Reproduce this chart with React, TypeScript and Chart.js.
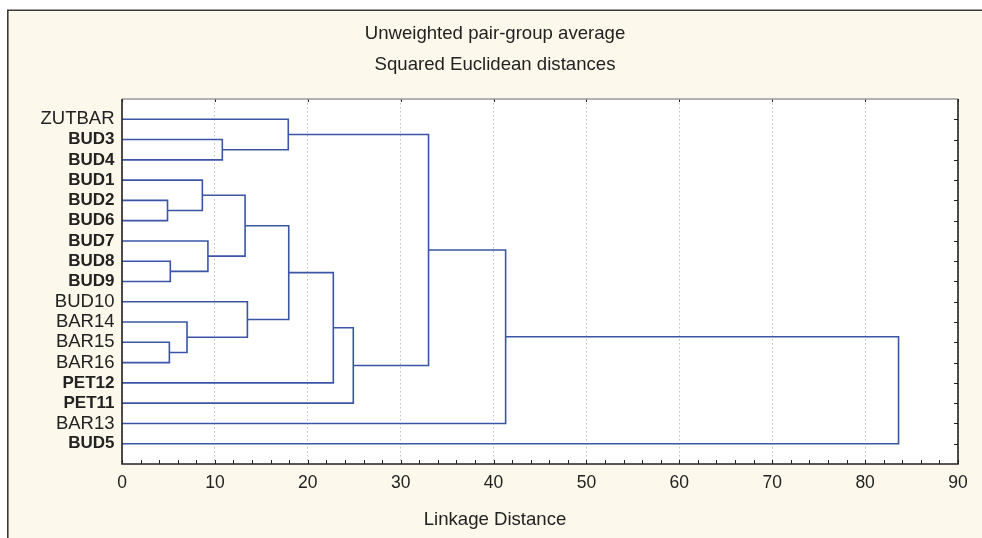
import { useEffect, useRef } from 'react';
import { Chart, registerables } from 'chart.js';

Chart.register(...registerables);

// ---- data ----
const leafLabels = ['ZUTBAR', 'BUD3', 'BUD4', 'BUD1', 'BUD2', 'BUD6', 'BUD7', 'BUD8', 'BUD9', 'BUD10', 'BAR14', 'BAR15', 'BAR16', 'PET12', 'PET11', 'BAR13', 'BUD5'];
const boldLabels = ['BUD3', 'BUD4', 'BUD1', 'BUD2', 'BUD6', 'BUD7', 'BUD8', 'BUD9', 'PET12', 'PET11', 'BUD5'];
// linkage: ids 0..16 are leaves (in display order); merge k creates node 17 + k
const mergeLeft = [1, 0, 4, 3, 7, 6, 20, 11, 10, 9, 23, 27, 28, 18, 30, 31];
const mergeRight = [2, 17, 5, 19, 8, 21, 22, 12, 24, 25, 26, 13, 14, 29, 15, 16];
const mergeHeight = [10.8, 17.9, 4.9, 8.65, 5.2, 9.25, 13.25, 5.1, 7.0, 13.5, 17.95, 22.75, 24.9, 33.0, 41.3, 83.6];
const xTicks = [0, 10, 20, 30, 40, 50, 60, 70, 80, 90];
const xMinorStep = 2;
const titleLines = ['Unweighted pair-group average', 'Squared Euclidean distances'];
const xAxisTitle = 'Linkage Distance';

const FONT = "'Liberation Sans', Arial, Helvetica, sans-serif";
const LINE_COLOR = '#3a55a6';
const TEXT_COLOR = '#222222';

function buildDatasets() {
  const pos: number[] = leafLabels.map((_, i) => i + 1);
  const hgt: number[] = leafLabels.map(() => 0);
  const sets: any[] = [];
  mergeHeight.forEach((h, k) => {
    const a = mergeLeft[k];
    const b = mergeRight[k];
    const pa = pos[a];
    const pb = pos[b];
    sets.push({
      type: 'scatter',
      data: [
        { x: hgt[a], y: pa },
        { x: h, y: pa },
        { x: h, y: pb },
        { x: hgt[b], y: pb },
      ],
      showLine: true,
      borderColor: LINE_COLOR,
      backgroundColor: LINE_COLOR,
      borderWidth: 1.6,
      pointRadius: 0,
      tension: 0,
      fill: false,
    });
    pos.push((pa + pb) / 2);
    hgt.push(h);
  });
  return sets;
}

const decorPlugin = {
  id: 'decor',
  beforeDraw(chart: any) {
    const { ctx, chartArea: a, width, height } = chart;
    ctx.save();
    ctx.fillStyle = '#ffffff';
    ctx.fillRect(0, 0, width, height);
    ctx.fillStyle = '#fdf8ec';
    ctx.fillRect(7, 10, width, height);
    ctx.strokeStyle = '#3a3a3a';
    ctx.lineWidth = 1.6;
    ctx.beginPath();
    ctx.moveTo(7.8, height + 5);
    ctx.lineTo(7.8, 10.3);
    ctx.lineTo(width + 5, 10.3);
    ctx.stroke();
    ctx.fillStyle = '#ffffff';
    ctx.fillRect(a.left, a.top, a.right - a.left, a.bottom - a.top);
    ctx.restore();
  },
  afterDraw(chart: any) {
    const { ctx, chartArea: a } = chart;
    const xs = chart.scales.x;
    const ys = chart.scales.y;
    ctx.save();
    ctx.strokeStyle = '#222222';
    ctx.lineWidth = 1;
    ctx.beginPath();
    const xmax = xTicks[xTicks.length - 1];
    for (let v = xTicks[0]; v <= xmax + 1e-9; v += xMinorStep) {
      const px = Math.round(xs.getPixelForValue(v)) + 0.5;
      ctx.moveTo(px, a.bottom);
      ctx.lineTo(px, a.bottom - 4);
    }
    xTicks.forEach((v) => {
      const px = Math.round(xs.getPixelForValue(v)) + 0.5;
      ctx.moveTo(px, a.top);
      ctx.lineTo(px, a.top + 3);
    });
    leafLabels.forEach((_, i) => {
      const py = Math.round(ys.getPixelForValue(i + 1)) + 0.5;
      ctx.moveTo(a.right, py);
      ctx.lineTo(a.right - 4, py);
    });
    ctx.stroke();

    // plot frame
    ctx.strokeStyle = '#9a9a9a';
    ctx.lineWidth = 1.3;
    ctx.beginPath();
    ctx.moveTo(a.left, a.top);
    ctx.lineTo(a.right, a.top);
    ctx.stroke();
    ctx.strokeStyle = '#222222';
    ctx.lineWidth = 1.6;
    ctx.beginPath();
    ctx.moveTo(a.left, a.top);
    ctx.lineTo(a.left, a.bottom);
    ctx.lineTo(a.right, a.bottom);
    ctx.lineTo(a.right, a.top);
    ctx.stroke();
    ctx.restore();
  },
};

export default function App() {
  const canvasRef = useRef<HTMLCanvasElement | null>(null);

  useEffect(() => {
    const canvas = canvasRef.current;
    if (!canvas) return;
    const chart = new Chart(canvas, {
      type: 'scatter',
      data: { datasets: buildDatasets() },
      plugins: [decorPlugin],
      options: {
        animation: false,
        responsive: false,
        devicePixelRatio: 1,
        layout: { padding: { left: 32, right: 24, top: 0, bottom: 0 } },
        plugins: {
          legend: { display: false },
          tooltip: { enabled: false },
          title: {
            display: true,
            text: titleLines,
            color: TEXT_COLOR,
            font: { family: FONT, size: 18.6, weight: 'normal', lineHeight: 30.5 / 18.6 },
            padding: { top: 19, bottom: 19 },
          },
          subtitle: {
            display: true,
            position: 'bottom',
            text: xAxisTitle,
            color: TEXT_COLOR,
            font: { family: FONT, size: 18.6, weight: 'normal', lineHeight: 1.2 },
            padding: { top: 5.2, bottom: 6.5 },
          },
        },
        scales: {
          x: {
            type: 'linear',
            position: 'bottom',
            min: xTicks[0],
            max: xTicks[xTicks.length - 1],
            afterBuildTicks: (scale: any) => {
              scale.ticks = xTicks.map((v) => ({ value: v }));
            },
            afterFit: (scale: any) => {
              scale.height = 40;
            },
            ticks: {
              color: TEXT_COLOR,
              font: { family: FONT, size: 17.5 },
              padding: 8.5,
              maxRotation: 0,
              autoSkip: false,
            },
            grid: {
              display: true,
              color: '#c0c0c0',
              lineWidth: 1,
              drawTicks: false,
            },
            border: { display: false, dash: [1.5, 2.5] },
          },
          y: {
            type: 'linear',
            position: 'left',
            reverse: true,
            min: 0,
            max: leafLabels.length + 1,
            afterBuildTicks: (scale: any) => {
              scale.ticks = leafLabels.map((_, i) => ({ value: i + 1 }));
            },
            afterFit: (scale: any) => {
              scale.width = 90;
            },
            ticks: {
              color: TEXT_COLOR,
              autoSkip: false,
              padding: 7.5,
              callback: (value: any) => leafLabels[Number(value) - 1] ?? '',
              font: (ctx: any) => {
                const lbl = leafLabels[Number(ctx.tick?.value) - 1];
                const b = boldLabels.includes(lbl);
                return { family: FONT, size: b ? 17 : 18.5, weight: b ? 'bold' : 'normal' };
              },
            },
            grid: { display: false, drawTicks: false },
            border: { display: false },
          },
        },
      } as any,
    });
    return () => chart.destroy();
  }, []);

  return (
    <div style={{ position: 'absolute', left: 0, top: 0, width: 982, height: 538 }}>
      <canvas ref={canvasRef} width={982} height={538} style={{ display: 'block' }} />
    </div>
  );
}
